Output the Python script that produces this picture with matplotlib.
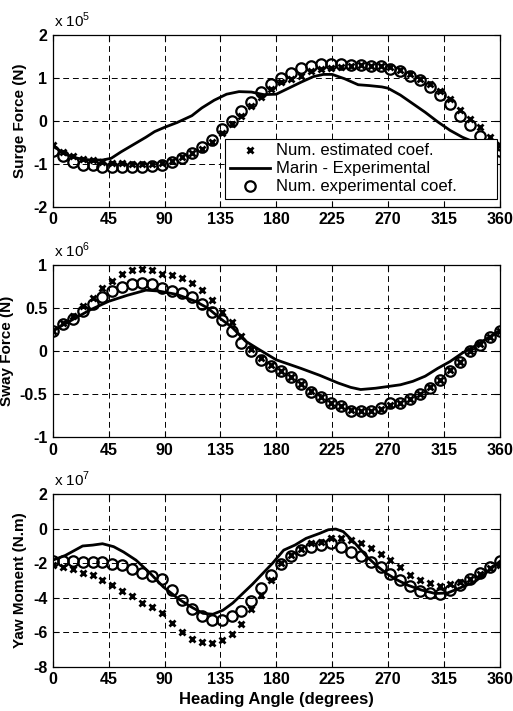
import numpy as np
import matplotlib.pyplot as plt
from matplotlib.ticker import MultipleLocator, FuncFormatter

plt.rcParams['font.family'] = ['Liberation Sans', 'DejaVu Sans']
plt.rcParams['axes.unicode_minus'] = False
plt.rcParams['mathtext.fontset'] = 'custom'
plt.rcParams['mathtext.rm'] = 'Liberation Sans'

# heading angles of the numerical points (every 8 degrees)
heading = np.arange(0, 361, 8)

# Surge force, x 10^5 N
surge_est = [-0.55, -0.72, -0.82, -0.88, -0.92, -0.95, -0.98, -0.99, -1.0, -1.01, -1.0, -0.98,
             -0.93, -0.85, -0.75, -0.65, -0.5, -0.28, -0.08, 0.12, 0.35, 0.55, 0.75, 0.9,
             0.98, 1.05, 1.15, 1.2, 1.23, 1.26, 1.28, 1.29, 1.28, 1.27, 1.25, 1.19,
             1.1, 0.98, 0.85, 0.7, 0.5, 0.25, 0.05, -0.15, -0.38, -0.55]
surge_expc = [-0.7, -0.82, -0.95, -1.02, -1.03, -1.07, -1.08, -1.08, -1.08, -1.07, -1.04, -1.02,
              -0.95, -0.86, -0.75, -0.6, -0.45, -0.2, 0.0, 0.22, 0.45, 0.68, 0.85, 1.0,
              1.12, 1.22, 1.28, 1.32, 1.33, 1.32, 1.3, 1.29, 1.28, 1.27, 1.2, 1.16,
              1.04, 0.94, 0.78, 0.6, 0.39, 0.12, -0.1, -0.35, -0.56, -0.7]
marin_surge_ang = [0, 10, 20, 30, 40, 47, 55, 65, 75, 82, 90, 100, 112, 120, 130, 140, 150, 160,
                   170, 180, 190, 200, 210, 218, 225, 235, 246, 255, 265, 270, 280, 290, 300,
                   310, 320, 330, 340, 350, 360]
marin_surge = [-0.58, -0.78, -0.87, -0.91, -0.91, -0.87, -0.72, -0.55, -0.38, -0.25, -0.15,
               -0.04, 0.12, 0.3, 0.48, 0.62, 0.68, 0.67, 0.61, 0.62, 0.76, 0.9, 1.03, 1.08,
               1.08, 0.98, 0.84, 0.82, 0.79, 0.76, 0.6, 0.4, 0.2, -0.02, -0.22, -0.38, -0.5,
               -0.6, -0.68]

# Sway force, x 10^6 N
sway_est = [0.24, 0.33, 0.41, 0.52, 0.62, 0.73, 0.82, 0.9, 0.95, 0.96, 0.94, 0.9,
            0.89, 0.85, 0.79, 0.71, 0.59, 0.46, 0.34, 0.18, 0.03, -0.08, -0.16, -0.23,
            -0.3, -0.38, -0.46, -0.53, -0.6, -0.64, -0.68, -0.7, -0.7, -0.67, -0.62, -0.6,
            -0.56, -0.5, -0.42, -0.33, -0.22, -0.12, 0.0, 0.08, 0.17, 0.24]
sway_expc = [0.24, 0.32, 0.38, 0.47, 0.55, 0.63, 0.7, 0.75, 0.78, 0.79, 0.78, 0.73,
             0.7, 0.68, 0.63, 0.55, 0.46, 0.36, 0.24, 0.1, 0.0, -0.1, -0.17, -0.23,
             -0.3, -0.38, -0.47, -0.53, -0.6, -0.64, -0.69, -0.7, -0.7, -0.66, -0.6, -0.6,
             -0.56, -0.5, -0.43, -0.34, -0.23, -0.12, 0.0, 0.07, 0.16, 0.24]
marin_sway_ang = [0, 10, 20, 30, 45, 60, 75, 85, 100, 115, 125, 135, 145, 155, 165, 180,
                  200, 215, 230, 240, 248, 260, 270, 280, 290, 300, 310, 320, 330, 340, 350, 360]
marin_sway = [0.24, 0.32, 0.4, 0.48, 0.58, 0.65, 0.71, 0.7, 0.66, 0.58, 0.5, 0.38, 0.27,
              0.12, 0.03, -0.1, -0.2, -0.28, -0.37, -0.42, -0.445, -0.43, -0.41, -0.39,
              -0.35, -0.29, -0.2, -0.12, -0.02, 0.06, 0.15, 0.24]

# Yaw moment, x 10^7 N.m
yaw_est = [-2.1, -2.2, -2.35, -2.55, -2.7, -2.95, -3.27, -3.6, -3.9, -4.29, -4.56, -4.87,
           -5.44, -5.96, -6.36, -6.56, -6.6, -6.46, -6.07, -5.49, -4.66, -3.85, -2.98, -2.0,
           -1.5, -1.15, -0.85, -0.75, -0.56, -0.56, -0.66, -0.85, -1.14, -1.49, -1.82, -2.24,
           -2.69, -2.98, -3.13, -3.33, -3.21, -3.1, -2.9, -2.6, -2.3, -2.1]
yaw_expc = [-1.88, -1.85, -1.85, -1.9, -1.9, -1.95, -2.05, -2.1, -2.36, -2.55, -2.75, -2.94,
            -3.56, -4.1, -4.62, -5.07, -5.3, -5.3, -5.07, -4.75, -4.18, -3.42, -2.69, -2.05,
            -1.57, -1.24, -1.04, -0.95, -0.85, -1.08, -1.33, -1.57, -1.91, -2.2, -2.6, -2.98,
            -3.33, -3.6, -3.75, -3.79, -3.56, -3.27, -2.92, -2.55, -2.2, -1.88]
marin_yaw_ang = [0, 10, 24, 32, 40, 49, 57, 67, 78, 89, 102, 112, 121, 129, 137, 145, 153,
                 161, 169, 177, 186, 195, 204, 215, 222, 228, 234, 243, 253, 261, 269, 277,
                 286, 297, 308, 318, 329, 340, 350, 360]
marin_yaw = [-1.82, -1.55, -1.0, -0.95, -0.87, -1.04, -1.35, -1.82, -2.55, -3.37, -4.1,
             -4.55, -4.9, -4.95, -4.72, -4.3, -3.75, -3.2, -2.6, -2.0, -1.24, -0.95, -0.56,
             -0.27, -0.06, -0.02, -0.17, -0.8, -1.62, -2.15, -2.6, -2.95, -3.27, -3.55,
             -3.75, -3.72, -3.4, -3.07, -2.5, -1.9]

panels = [
    ("Surge Force (N)", 5, surge_est, surge_expc, marin_surge_ang, marin_surge, (-2, 2), 1),
    ("Sway Force (N)", 6, sway_est, sway_expc, marin_sway_ang, marin_sway, (-1, 1), 0.5),
    ("Yaw Moment (N.m)", 7, yaw_est, yaw_expc, marin_yaw_ang, marin_yaw, (-8, 2), 2),
]

fig = plt.figure(figsize=(5.13, 7.11), dpi=100)
rects = [[0.103, 0.709, 0.871, 0.242],
         [0.103, 0.385, 0.871, 0.242],
         [0.103, 0.062, 0.871, 0.243]]

axes = []
for rect, (label, expo, est, expc, m_ang, m_val, ylim, ystep) in zip(rects, panels):
    ax = fig.add_axes(rect)
    scale = 10.0 ** expo
    h1, = ax.plot(heading, np.array(est) * scale, 'x', color='black', ms=4.5, mew=2.0,
                  label='Num. estimated coef.')
    h2, = ax.plot(m_ang, np.array(m_val) * scale, '-', color='black', lw=2.0,
                  label='Marin - Experimental')
    h3, = ax.plot(heading, np.array(expc) * scale, 'o', color='black', mfc='none', ms=7.5,
                  mew=1.6, label='Num. experimental coef.')
    ax.set_xlim(0, 360)
    ax.set_ylim(ylim[0] * scale, ylim[1] * scale)
    ax.xaxis.set_major_locator(MultipleLocator(45))
    ax.yaxis.set_major_locator(MultipleLocator(ystep * scale))
    ax.yaxis.set_major_formatter(FuncFormatter(lambda v, p, s=scale: '%g' % round(v / s, 3)))
    ax.grid(True, color='black', linestyle=(0, (6, 4)), linewidth=0.7)
    ax.tick_params(direction='in', top=True, right=True, length=4, labelsize=11.5, pad=4)
    for lbl in ax.get_xticklabels() + ax.get_yticklabels():
        lbl.set_fontweight('bold')
    for sp in ax.spines.values():
        sp.set_linewidth(0.9)
    ax.set_ylabel(label, fontsize=11, fontweight='bold', labelpad=4)
    ax.text(0.003, 1.03, r'x 10$^{%d}$' % expo, transform=ax.transAxes, fontsize=11,
            ha='left', va='bottom')
    axes.append(ax)

# legend box stretched across the lower right of the surge panel
leg = axes[0].legend(handles=[h1, h2, h3], loc='lower left', mode='expand',
                     bbox_to_anchor=(0.385, 0.045, 0.61, 0.3), fontsize=12,
                     frameon=True, fancybox=False, edgecolor='black', framealpha=1,
                     borderaxespad=0, handlelength=2.4, borderpad=0.28, labelspacing=0.18,
                     handletextpad=0.4)
leg.get_frame().set_linewidth(0.8)

axes[2].set_xlabel('Heading Angle (degrees)', fontsize=12, fontweight='bold', labelpad=3)
fig.align_ylabels(axes)

fig.savefig('out.png', dpi=100)
